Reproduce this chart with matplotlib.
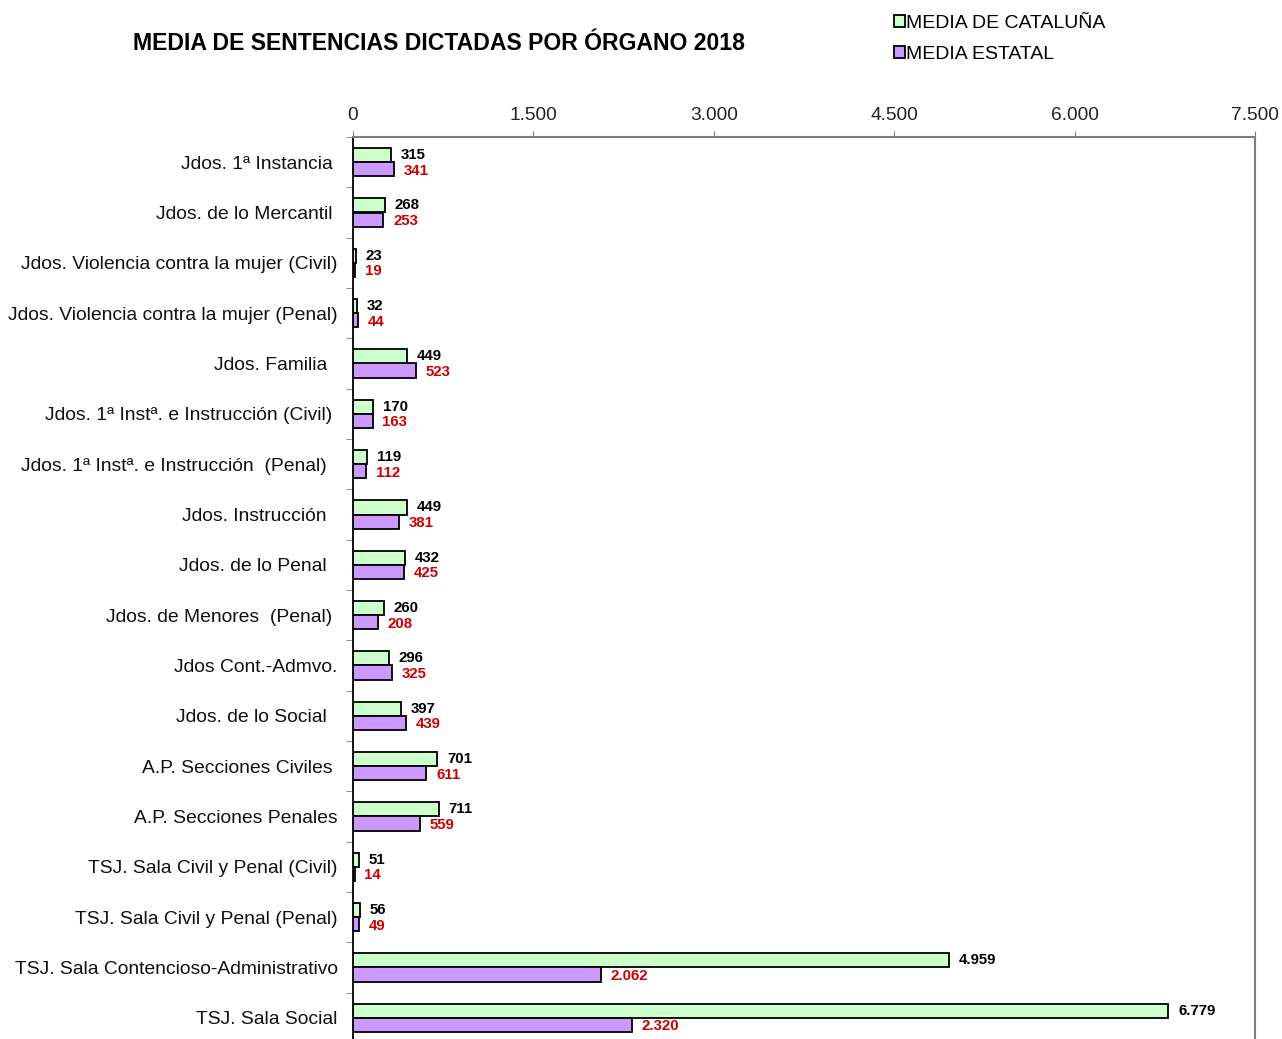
import matplotlib.pyplot as plt
import numpy as np

plt.rcParams["font.family"] = ["Liberation Sans", "DejaVu Sans"]

# Data
categories = [
    "Jdos. 1ª Instancia ",
    "Jdos. de lo Mercantil ",
    "Jdos. Violencia contra la mujer (Civil)",
    "Jdos. Violencia contra la mujer (Penal)",
    "Jdos. Familia  ",
    "Jdos. 1ª Instª. e Instrucción (Civil) ",
    "Jdos. 1ª Instª. e Instrucción  (Penal)  ",
    "Jdos. Instrucción  ",
    "Jdos. de lo Penal  ",
    "Jdos. de Menores  (Penal) ",
    "Jdos Cont.-Admvo.",
    "Jdos. de lo Social  ",
    "A.P. Secciones Civiles ",
    "A.P. Secciones Penales",
    "TSJ. Sala Civil y Penal (Civil)",
    "TSJ. Sala Civil y Penal (Penal)",
    "TSJ. Sala Contencioso-Administrativo",
    "TSJ. Sala Social",
]
media_cataluna = [315, 268, 23, 32, 449, 170, 119, 449, 432, 260, 296, 397, 701, 711, 51, 56, 4959, 6779]
media_estatal = [341, 253, 19, 44, 523, 163, 112, 381, 425, 208, 325, 439, 611, 559, 14, 49, 2062, 2320]
x_ticks = [0, 1500, 3000, 4500, 6000, 7500]


def fmt(v):
    return f"{v:,}".replace(",", ".")


fig = plt.figure(figsize=(12.82, 10.39), dpi=100)
ax = fig.add_axes([353 / 1282, -4 / 1039, 902 / 1282, 906 / 1039])

y = np.arange(len(categories))
h = 0.28
ax.barh(y - h / 2, media_cataluna, height=h, color="#CCFFCC", edgecolor="black", linewidth=1.3,
        label="MEDIA DE CATALUÑA")
ax.barh(y + h / 2, media_estatal, height=h, color="#CC99FF", edgecolor="black", linewidth=1.3,
        label="MEDIA ESTATAL")

for i in range(len(categories)):
    ax.annotate(fmt(media_cataluna[i]), (media_cataluna[i], y[i] - h / 2), xytext=(7, 0),
                textcoords="offset points", va="center", ha="left", fontsize=10.8,
                fontweight="bold", color="black")
    ax.annotate(fmt(media_estatal[i]), (media_estatal[i], y[i] + h / 2), xytext=(7, -1),
                textcoords="offset points", va="center", ha="left", fontsize=10.8,
                fontweight="bold", color="#CC0000")

ax.set_xlim(0, 7500)
ax.set_ylim(len(categories) - 0.5, -0.5)
ax.xaxis.tick_top()
ax.set_xticks(x_ticks)
ax.set_xticklabels([fmt(t) for t in x_ticks])
ax.tick_params(axis="x", direction="out", length=4.5, color="#808080", labelsize=13.8,
               labelcolor="#222222", pad=5)

ax.set_yticks(y)
ax.set_yticklabels(categories)
ax.tick_params(axis="y", which="major", length=0, labelsize=13.9, labelcolor="#111111", pad=11)
ax.set_yticks(np.arange(-0.5, len(categories)), minor=True)
ax.tick_params(axis="y", which="minor", length=5, color="#808080", direction="out")

for s in ["top", "right"]:
    ax.spines[s].set_color("#808080")
    ax.spines[s].set_linewidth(1.5)
ax.spines["left"].set_color("black")
ax.spines["left"].set_linewidth(1.3)
ax.spines["bottom"].set_visible(False)

fig.text(439 / 1282, 1 - 43 / 1039, "MEDIA DE SENTENCIAS DICTADAS POR ÓRGANO 2018",
         ha="center", va="center", fontsize=16.6, fontweight="bold")

fig.legend(loc="upper left", bbox_to_anchor=(880 / 1282, 1 - 1.5 / 1039), frameon=False,
           fontsize=14.0, handlelength=0.6, handleheight=0.6, handletextpad=0.05,
           labelspacing=0.72, borderpad=0.2)

fig.savefig("out.png", dpi=100)
